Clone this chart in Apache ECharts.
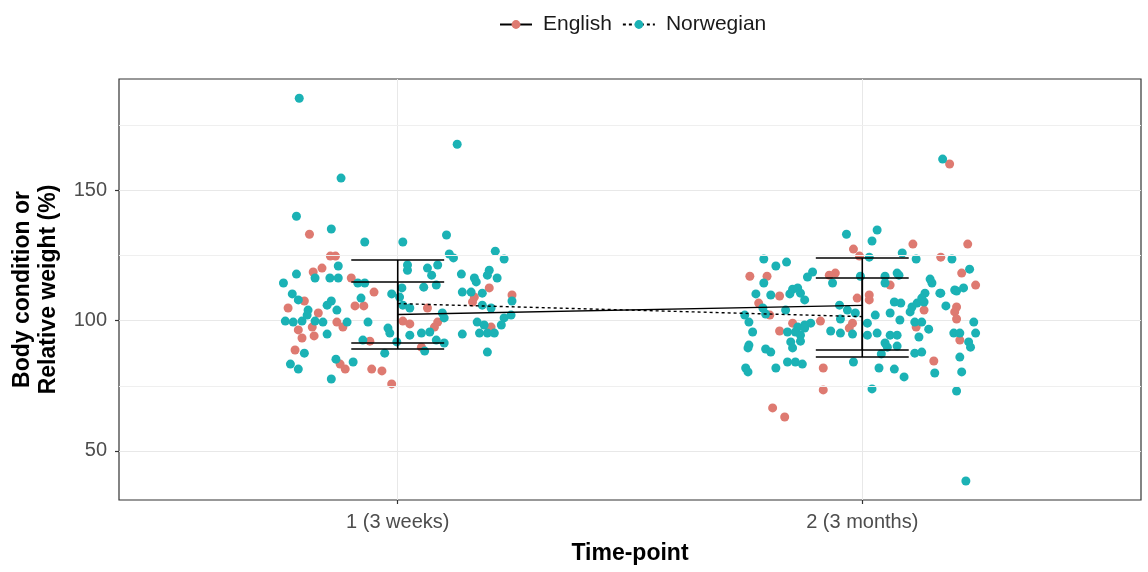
<!DOCTYPE html>
<html>
<head>
<meta charset="utf-8">
<script src="https://cdn.jsdelivr.net/npm/echarts@6/dist/echarts.min.js"></script>
<style>
  html, body { margin: 0; padding: 0; background: #ffffff; }
  #chart { width: 1148px; height: 572px; }
</style>
</head>
<body>
<div id="chart"></div>
<script>
// Time-points on the x axis (discrete positions 1 and 2)
const timePositions = [1, 2];
const timeLabels = ['1 (3 weeks)', '2 (3 months)'];
const yTicks = [50, 100, 150];
const yMinorLines = [75, 125, 175];

// Individual observations, [jittered time-point, body condition %]
const englishPoints = [
  [0.81,133.1],[0.855,124.7],[0.866,124.7],[0.837,120.1],[0.818,118.6],[0.9,116.3],[0.949,110.9],
  [0.799,107.5],[0.764,104.8],[0.908,105.6],[0.927,105.6],[0.829,102.9],[0.869,99.4],[0.882,97.5],
  [0.816,97.5],[0.786,96.4],[0.794,93.3],[0.82,94.1],[0.94,92.1],[0.779,88.7],[0.876,83.3],
  [0.887,81.4],[0.944,81.4],[0.966,80.7],[0.987,75.7],
  [1.197,112.5],[1.165,109],[1.161,107.1],[1.246,109.8],[1.064,104.8],[1.011,99.8],[1.026,98.7],
  [1.086,99.4],[1.079,97.5],[1.201,97.5],[1.051,89.8],
  [2.188,160],[1.981,127.4],[2.109,129.3],[2.227,129.3],[1.994,124.7],[2.169,124.3],[1.758,117],
  [1.795,117],[1.929,117.4],[1.942,118.2],[2.06,113.6],[2.214,118.2],[2.244,113.6],[1.822,109.4],
  [1.777,106.7],[1.801,102.1],[1.91,99.8],[1.85,99],[1.822,96],[1.972,97.1],[1.979,99],
  [1.916,81.8],[1.916,73.4],[1.807,66.5],[1.833,63],[2.154,84.5],[2.116,97.5],[2.203,105.2],
  [2.199,103.3],[2.203,100.6],[2.21,92.5],[2.133,104],[1.989,108.6],[2.015,109.8],[2.015,107.9]
];

const norwegianPoints = [
  [0.788,185.2],[1.128,167.6],[0.878,154.6],[0.782,140],[0.857,135.1],[0.929,130.1],[1.011,130.1],
  [1.105,132.8],[1.111,125.5],[1.12,124],[1.21,126.6],[1.229,123.6],
  [0.872,120.9],[0.782,117.8],[0.822,116.3],[0.854,116.3],[0.872,116.3],[0.754,114.4],[0.914,114.4],
  [0.929,114.4],[0.773,110.2],[0.987,110.2],[0.786,107.9],[0.921,108.6],[0.857,107.5],[0.848,105.9],
  [0.807,104],[0.869,104],[0.758,99.8],[0.775,99.4],[0.794,99.8],[0.805,102.1],[0.822,99.8],
  [0.839,99.4],[0.891,99.4],[0.936,99.4],[0.979,97.1],[0.983,95.2],[0.848,94.8],[0.925,92.5],
  [0.998,91.8],[0.799,87.5],[0.972,87.5],[0.867,85.2],[0.904,84.1],[0.769,83.3],[0.786,81.4],
  [0.857,77.6],
  [1.021,121.3],[1.021,119.3],[1.064,120.1],[1.086,121.3],[1.073,117.4],[1.137,117.8],[1.165,116.3],
  [1.169,114.8],[1.197,119.3],[1.193,117.4],[1.214,116.3],[1.056,112.8],[1.083,113.6],[1.139,110.9],
  [1.158,110.9],[1.182,110.5],[1.009,112.5],[1.004,109],[1.011,105.9],[1.026,104.8],[1.246,107.5],
  [1.182,105.9],[1.201,104.8],[1.096,102.9],[1.1,101],[1.171,99.4],[1.186,98.3],[1.229,101],
  [1.244,102.1],[1.223,98.3],[1.208,95.2],[1.193,95.2],[1.176,95.2],[1.026,94.4],[1.051,95.2],
  [1.069,95.6],[1.139,94.8],[1.083,92.5],[1.1,91.4],[1.058,88.3],[1.193,87.9],
  [2.173,161.9],[1.966,133.1],[2.032,134.7],[2.021,130.5],[2.015,124.3],[2.086,125.9],[2.116,123.6],
  [2.193,123.6],[1.788,123.6],[1.814,120.9],[1.837,122.4],[1.788,114.4],[1.893,118.6],[1.882,116.7],
  [1.936,114.4],[1.996,117],[2.049,117],[2.049,114.4],[2.075,118.2],[2.079,117.4],[2.146,115.9],
  [2.15,114.4],[2.231,119.7],[2.169,110.5],[2.203,111.3],[2.218,112.5],[1.771,110.2],[1.803,109.8],
  [1.85,112],[1.861,112.5],[1.867,110.5],[1.844,110.2],[1.876,107.9],[1.786,104.8],[1.792,102.5],
  [1.835,104],[1.747,102.1],[1.756,99.4],[1.764,95.6],[1.951,105.9],[1.968,104],[1.985,102.9],
  [1.953,100.6],[1.889,99],[1.876,98.3],[1.861,97.5],[1.839,95.6],[1.856,95.6],[1.867,94.4],
  [1.876,97.1],[1.932,96],[1.953,95.2],[1.979,94.8],[1.846,91.8],[1.867,92.1],[1.85,89.5],
  [1.756,90.6],[1.754,89.5],[1.792,89.1],[1.803,87.9],[1.839,84.1],[1.856,84.1],[1.871,83.3],
  [1.749,81.8],[1.754,80.3],[1.814,81.8],[1.981,84.1],[2.021,73.8],[2.036,81.8],[2.069,81.4],
  [2.09,78.4],[2.156,79.9],[2.113,87.5],[2.128,87.9],[2.21,86],[2.214,80.3],[2.203,73],
  [2.223,38.5],[2.041,87.2],[2.054,89.8],[2.075,90.2],[2.122,93.7],[2.143,96.7],[2.011,94.4],
  [2.032,95.2],[2.011,99],[2.028,102.1],[2.06,94.4],[2.075,94.4],[2.049,91.4],[2.06,102.9],
  [2.081,100.2],[2.069,107.1],[2.083,106.7],[2.103,103.3],[2.107,105.2],[2.118,106.7],[2.133,107.1],
  [2.113,99.4],[2.128,99.4],[2.18,105.6],[2.197,95.2],[2.21,95.2],[2.229,91.8],[2.233,89.8],
  [2.24,99.4],[2.244,95.2],[2.167,110.5],[2.199,111.7],[2.135,110.5],[2.128,108.6]
];

// Group means per time-point and their error-bar limits
const englishMeans = [102.3, 105.8];
const norwegianMeans = [106.5, 101.5];
const englishLow = [89.1, 88.7];
const englishHigh = [114.8, 124.0];
const norwegianLow = [91.4, 86.0];
const norwegianHigh = [123.2, 116.3];

const RED = '#DE7A71';
const TEAL = '#1BB2B5';
const FONT = "'Liberation Sans', Arial, sans-serif";
const CAP_HALF = 0.1;

const meanLine = (means) => timePositions.map((t, i) => [t, means[i]]);
const errRows = (low, high) => timePositions.map((t, i) => [t, low[i], high[i]]);

function renderErrorBar(params, api) {
  const x = api.value(0), lo = api.value(1), hi = api.value(2);
  const pLo = api.coord([x, lo]);
  const pHi = api.coord([x, hi]);
  const xl = api.coord([x - CAP_HALF, lo])[0];
  const xr = api.coord([x + CAP_HALF, lo])[0];
  const style = { stroke: '#000000', lineWidth: 1.6 };
  return {
    type: 'group',
    children: [
      { type: 'line', shape: { x1: pLo[0], y1: pLo[1], x2: pHi[0], y2: pHi[1] }, style },
      { type: 'line', shape: { x1: xl, y1: pLo[1], x2: xr, y2: pLo[1] }, style },
      { type: 'line', shape: { x1: xl, y1: pHi[1], x2: xr, y2: pHi[1] }, style }
    ]
  };
}

const chart = echarts.init(document.getElementById('chart'), null, { renderer: 'canvas' });

chart.setOption({
  animation: false,
  backgroundColor: '#ffffff',
  textStyle: { fontFamily: FONT },
  legend: {
    top: 9,
    left: 494,
    data: ['English', 'Norwegian'],
    itemWidth: 32,
    itemHeight: 11,
    itemGap: 10,
    textStyle: { fontSize: 21, color: '#1a1a1a', fontFamily: FONT, padding: [0, 0, 0, 6] },
    selectedMode: false
  },
  grid: {
    left: 119, right: 7, top: 79, bottom: 72,
    containLabel: false,
    outerBoundsMode: 'none',
    show: true, borderColor: '#333333', borderWidth: 1.2, backgroundColor: 'transparent'
  },
  xAxis: {
    type: 'value',
    min: 0.4, max: 2.6,
    name: 'Time-point',
    nameLocation: 'middle',
    nameGap: 42,
    nameTextStyle: { fontSize: 23, fontWeight: 'bold', color: '#000000', fontFamily: FONT },
    axisLine: { show: false },
    axisTick: { show: true, length: 4, customValues: timePositions, lineStyle: { color: '#333333', width: 1.2 } },
    axisLabel: {
      customValues: timePositions,
      margin: 12, fontSize: 20, color: '#4D4D4D', fontFamily: FONT,
      formatter: (v) => timeLabels[timePositions.indexOf(Math.round(v))] || ''
    },
    splitLine: { show: true, lineStyle: { color: '#E8E8E8', width: 1 } }
  },
  yAxis: {
    type: 'value',
    min: 31.2, max: 192.6,
    name: 'Body condition or\nRelative weight (%)',
    nameLocation: 'middle',
    nameRotate: 90,
    nameGap: 57,
    nameTextStyle: { fontSize: 23, fontWeight: 'bold', color: '#000000', lineHeight: 26, fontFamily: FONT },
    axisLine: { show: false },
    axisTick: { show: true, length: 4, customValues: yTicks, lineStyle: { color: '#333333', width: 1.2 } },
    axisLabel: { customValues: yTicks, margin: 12, fontSize: 20, color: '#4D4D4D', fontFamily: FONT },
    splitLine: { show: true, lineStyle: { color: '#E8E8E8', width: 1 } }
  },
  series: [
    {
      name: 'English points',
      type: 'scatter',
      data: englishPoints,
      symbolSize: 9,
      itemStyle: { color: RED, opacity: 1 },
      z: 2,
      silent: true,
      markLine: {
        silent: true,
        symbol: 'none',
        label: { show: false },
        lineStyle: { color: '#EFEFEF', width: 1, type: 'solid' },
        data: yMinorLines.map((v) => ({ yAxis: v }))
      }
    },
    {
      name: 'Norwegian points',
      type: 'scatter',
      data: norwegianPoints,
      symbolSize: 9,
      itemStyle: { color: TEAL, opacity: 1 },
      z: 2,
      silent: true
    },
    {
      name: 'English',
      type: 'line',
      data: meanLine(englishMeans),
      showSymbol: false,
      symbol: 'circle',
      itemStyle: { color: RED },
      lineStyle: { color: '#000000', width: 1.4, type: 'solid' },
      z: 4
    },
    {
      name: 'Norwegian',
      type: 'line',
      data: meanLine(norwegianMeans),
      showSymbol: false,
      symbol: 'circle',
      itemStyle: { color: TEAL },
      lineStyle: { color: '#000000', width: 1.4, type: [3, 3] },
      z: 4
    },
    {
      name: 'English error',
      type: 'custom',
      data: errRows(englishLow, englishHigh),
      renderItem: renderErrorBar,
      encode: { x: 0, y: [1, 2] },
      z: 5,
      silent: true
    },
    {
      name: 'Norwegian error',
      type: 'custom',
      data: errRows(norwegianLow, norwegianHigh),
      renderItem: renderErrorBar,
      encode: { x: 0, y: [1, 2] },
      z: 5,
      silent: true
    }
  ]
});
</script>
</body>
</html>
